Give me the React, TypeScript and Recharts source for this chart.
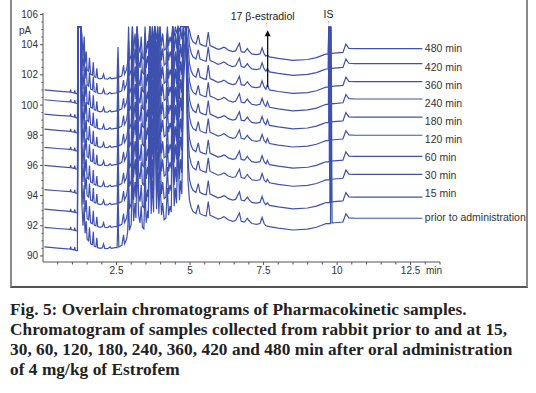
import React from "react"
import {
	LineChart,
	Line,
	XAxis,
	YAxis,
	ReferenceDot,
	ReferenceLine,
} from "recharts"

// sample labels, top trace first
const traceNames = [
	"480 min",
	"420 min",
	"360 min",
	"240 min",
	"180 min",
	"120 min",
	"60 min",
	"30 min",
	"15 min",
	"prior to administration",
]
// baseline level at the end of each run (pA)
const endLevel = [103.74, 102.75, 101.55, 100.4, 99.2, 98.0, 96.6, 95.4, 93.9, 92.5]
// baseline level before the solvent front (pA)
const preLevel = [101.0, 100.35, 99.4, 98.4, 97.2, 96.0, 94.4, 93.1, 91.9, 90.6]
// internal standard retention time per run (min)
const isTime = [9.72, 9.72, 9.73, 9.73, 9.74, 9.75, 9.76, 9.77, 9.78, 9.8]
// 17 beta-estradiol peak height above local baseline (pA)
const estradiolHeight = [0.1, 0.2, 0.3, 0.35, 0.35, 0.3, 0.25, 0.2, 0.15, 0.0]
// where the right-hand labels sit (pA)
const labelLevel = [103.74, 102.5, 101.3, 100.12, 98.92, 97.74, 96.54, 95.35, 94.15, 92.56]

// detector signal before the solvent front, relative to preLevel
const preTime = [0.05, 0.5, 0.92, 0.94, 0.96, 1.06, 1.08, 1.1, 1.17]
const preDelta = [0, -0.08, -0.14, 0.02, -0.15, -0.2, -0.02, -0.22, -0.25]

// shared chromatogram shape after the solvent front, relative to endLevel
const profileTime = [
	1.2, 1.28, 1.32, 1.36, 1.4, 1.43, 1.47, 1.5, 1.55, 1.58, 1.62, 1.68, 1.71,
	1.74, 1.8, 1.83, 1.86, 1.95, 2.02, 2.06, 2.1, 2.2, 2.28, 2.32, 2.45, 2.52,
	2.55, 2.58, 2.68, 2.74, 2.77, 2.84, 2.88, 2.91, 2.94, 3.0, 3.04, 3.08, 3.13,
	3.16, 3.2, 3.25, 3.3, 3.34, 3.38, 3.43, 3.47, 3.51, 3.56, 3.58, 3.63, 3.68,
	3.72, 3.76, 3.8, 3.86, 3.9, 3.94, 3.98, 4.03, 4.07, 4.12, 4.18, 4.23, 4.27,
	4.32, 4.36, 4.41, 4.46, 4.5, 4.54, 4.59, 4.64, 4.68, 4.72, 4.78, 4.86, 4.93,
	4.98, 5.04, 5.1, 5.2, 5.28, 5.34, 5.45, 5.55, 5.62, 5.68, 5.8, 5.95, 6.05,
	6.15, 6.2, 6.3, 6.45, 6.55, 6.68, 6.74, 6.85, 6.95, 7.0, 7.1, 7.25, 7.38,
	7.45, 7.52, 7.58, 7.7, 8.0, 8.5, 9.0, 9.3, 9.5, 9.62, 9.9, 10.2, 10.3, 10.4,
	10.6, 11.5, 12.9,
]
const profileDelta = [
	20, 20, 1.0, -0.5, 0.8, -1.0, -0.2, -1.4, -1.5, -0.6, -1.7, -1.75, -0.9,
	-1.85, -1.9, -1.3, -1.95, -2.0, -1.95, -1.7, -2.0, -2.02, -1.9, -2.0, -1.95,
	-1.95, 0.1, -1.9, -1.8, -1.1, -1.7, -1.4, -0.9, 1.5, -0.8, -0.4, 3.0, -0.2,
	1.0, 0.0, 4.0, 0.2, -0.3, 0.8, -0.6, -0.7, 2.0, -0.3, 0.5, 0.0, 5.0, 0.3,
	2.5, 0.4, 8.0, 0.6, 3.0, 0.3, 2.5, 0.2, 1.0, -0.1, 0.0, 2.0, 0.2, 0.8, 0.4,
	6.0, 0.8, 2.0, 1.0, 5.0, 1.2, 2.5, 1.6, 9.0, 12.0, 2.5, 1.2, 0.7, 0.45, 0.3,
	0.9, 0.3, 0.2, 0.15, 1.1, 0.2, 0.1, -0.05, 0.0, 0.1, 0.05, -0.1, -0.2, -0.15,
	0.35, -0.2, -0.25, 0.0, -0.15, -0.35, -0.4, -0.35, 0.05, -0.35, -0.5, -0.55,
	-0.65, -0.78, -0.72, -0.6, -0.45, -0.36, -0.3, -0.25, 0.3, 0.02, 0.0, 0.0,
	0.0,
]

const xMajor = [2.5, 5, 7.5, 10, 12.5]
const xTicks = [
	0.5, 1, 1.5, 2, 2.5, 3, 3.5, 4, 4.5, 5, 5.5, 6, 6.5, 7, 7.5, 8, 8.5, 9, 9.5,
	10, 10.5, 11, 11.5, 12, 12.5, 13, 13.5,
]
const yMajor = [90, 92, 94, 96, 98, 100, 102, 104, 106]
const yTicks = [
	90, 90.5, 91, 91.5, 92, 92.5, 93, 93.5, 94, 94.5, 95, 95.5, 96, 96.5, 97,
	97.5, 98, 98.5, 99, 99.5, 100, 100.5, 101, 101.5, 102, 102.5, 103, 103.5,
	104, 104.5, 105, 105.5, 106,
]

const CLIP = 105.2
const BLUE = "#3f51ae"
const AXIS = "#555"
const FONT = "'Liberation Sans', Arial, sans-serif"

const traces = traceNames.map((name, i) => {
	const L = endLevel[i]
	const pts = preTime.map((t, k) => ({ t, v: preLevel[i] + preDelta[k] }))
	profileTime.forEach((t, k) => pts.push({ t, v: L + profileDelta[k] }))
	pts.push({ t: 7.63, v: L - 0.52 + estradiolHeight[i] })
	pts.push({ t: isTime[i] - 0.025, v: L - 0.36 })
	pts.push({ t: isTime[i], v: 20 + L })
	pts.push({ t: isTime[i] + 0.03, v: L - 0.32 })
	pts.sort((a, b) => a.t - b.t)
	return { name, data: pts.map((p) => ({ t: p.t, v: Math.min(p.v, CLIP) })) }
})

const XTick = (props: any) => {
	const { x, y, payload } = props
	const axisY = y - 4
	const major = xMajor.includes(payload.value)
	return (
		<g>
			<line x1={x} x2={x} y1={axisY} y2={axisY + (major ? 3 : 2.5)} stroke={AXIS} />
			{major && (
				<text x={x} y={axisY + 12} textAnchor="middle" fontSize={10} fill="#333" fontFamily={FONT}>
					{payload.value}
				</text>
			)}
		</g>
	)
}

const YTick = (props: any) => {
	const { x, y, payload } = props
	const axisX = x + 5
	const major = yMajor.includes(payload.value)
	return (
		<g>
			<line x1={axisX - (major ? 3 : 1.5)} x2={axisX} y1={y} y2={y} stroke={AXIS} />
			{major && (
				<text x={axisX - 5} y={y + 3.5} textAnchor="end" fontSize={10} fill="#333" fontFamily={FONT}>
					{payload.value}
				</text>
			)}
		</g>
	)
}

const ArrowHead = (props: any) => {
	const { cx, cy } = props
	return <path d={`M${cx - 3},${cy + 6} L${cx},${cy} L${cx + 3},${cy + 6} Z`} fill="#111" />
}

export default function App() {
	return (
		<div style={{ position: "absolute", left: 0, top: 0, width: 536, height: 393, background: "#fff" }}>
			<div
				style={{
					position: "absolute",
					left: 10,
					top: -2,
					width: 514,
					height: 288,
					borderLeft: "2px solid #8a8a8a",
					borderRight: "2px solid #8a8a8a",
					borderBottom: "2px solid #555",
				}}
			/>
			<div style={{ position: "absolute", left: 0, top: 0 }}>
				<LineChart width={536} height={290} margin={{ top: 13, right: 96, bottom: 8, left: 13 }}>
					<XAxis
						dataKey="t"
						type="number"
						domain={[0, 13.5]}
						ticks={xTicks}
						interval={0}
						tick={<XTick />}
						tickLine={false}
						tickSize={3}
						tickMargin={1}
						height={20}
						stroke={AXIS}
						allowDataOverflow
						label={{ value: "min", position: "right", offset: -14, dy: -2, fontSize: 10, fill: "#333", fontFamily: FONT }}
					/>
					<YAxis
						type="number"
						domain={[89.6, 106.1]}
						ticks={yTicks}
						interval={0}
						tick={<YTick />}
						tickLine={false}
						tickSize={3}
						tickMargin={2}
						width={30}
						stroke={AXIS}
						allowDataOverflow
						label={{ value: "pA", position: "insideTopLeft", offset: 0, dx: 6, dy: 14, fontSize: 10, fill: "#333", fontFamily: FONT }}
					/>
					{traces.map((tr) => (
						<Line
							key={tr.name}
							data={tr.data}
							dataKey="v"
							name={tr.name}
							type="linear"
							stroke={BLUE}
							strokeWidth={1.2}
							dot={false}
							isAnimationActive={false}
						/>
					))}
					{traceNames.map((name, i) => (
						<ReferenceDot
							key={name}
							x={12.95}
							y={labelLevel[i]}
							r={0}
							ifOverflow="visible"
							label={{ value: name, position: "right", offset: 1, fontSize: 10.5, fill: "#333", fontFamily: FONT }}
						/>
					))}
					<ReferenceLine
						segment={[
							{ x: 7.64, y: 101.2 },
							{ x: 7.64, y: 104.6 },
						]}
						stroke="#111"
						strokeWidth={1.3}
					/>
					<ReferenceDot x={7.64} y={104.95} r={0} shape={<ArrowHead />} />
					<ReferenceDot
						x={7.47}
						y={105.87}
						r={0}
						ifOverflow="visible"
						label={{ value: "17 β-estradiol", position: "center", fontSize: 10.5, fill: "#222", fontFamily: FONT }}
					/>
					<ReferenceDot
						x={7.6}
						y={105.35}
						r={0}
						ifOverflow="visible"
						label={{ value: "↑", position: "center", fontSize: 7, fill: "#888", fontFamily: FONT }}
					/>
					<ReferenceDot
						x={9.71}
						y={106.0}
						r={0}
						ifOverflow="visible"
						label={{ value: "IS", position: "center", fontSize: 10.5, fill: "#222", fontFamily: FONT }}
					/>
					<ReferenceDot
						x={9.71}
						y={105.45}
						r={0}
						ifOverflow="visible"
						label={{ value: "↑", position: "center", fontSize: 7, fill: "#888", fontFamily: FONT }}
					/>
				</LineChart>
			</div>
			<div
				style={{
					position: "absolute",
					left: 10,
					top: 300,
					fontFamily: "'Liberation Serif', 'Times New Roman', serif",
					fontWeight: "bold",
					fontSize: 17.3,
					letterSpacing: 0.05,
					lineHeight: "20px",
					color: "#222",
					whiteSpace: "nowrap",
				}}
			>
				Fig. 5: Overlain chromatograms of Pharmacokinetic samples.
				<br />
				Chromatogram of samples collected from rabbit prior to and at 15,
				<br />
				30, 60, 120, 180, 240, 360, 420 and 480 min after oral administration
				<br />
				of 4 mg/kg of Estrofem
			</div>
		</div>
	)
}
